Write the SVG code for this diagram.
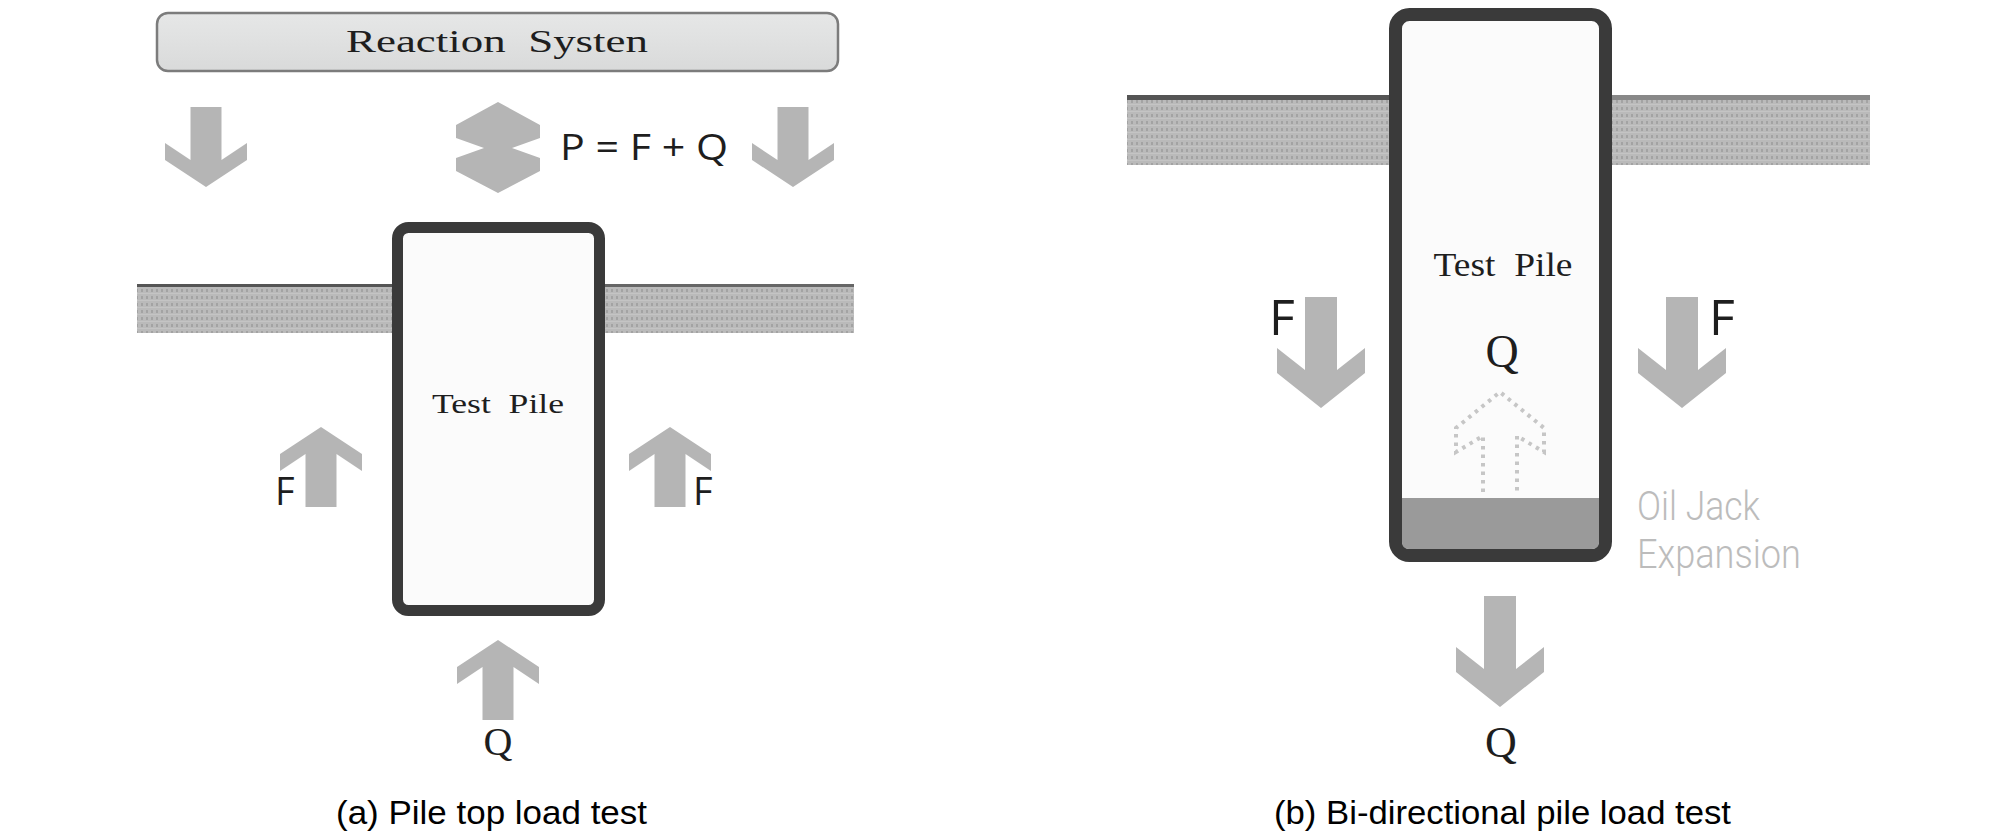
<svg xmlns="http://www.w3.org/2000/svg" width="2008" height="837" viewBox="0 0 2008 837">
  <style>
    .arrow { fill: #b5b5b5; }
    .serif { font-family: "Liberation Serif", "DejaVu Serif", serif; fill: #1e1e1e; }
    .sans { font-family: "Open Sans", "Liberation Sans", sans-serif; fill: #1e1e1e; }
    .cap { font-family: "Liberation Sans", Arial, sans-serif; fill: #000; font-size: 34px; }
    .pile { fill: #fbfbfb; stroke: #3a3a3a; }
    .band { fill: url(#soil); }
  </style>
  <defs>
    <pattern id="soil" width="5" height="7" patternUnits="userSpaceOnUse">
      <rect width="5" height="7" fill="#bababa"/>
      <rect x="1" y="2" width="2" height="3" fill="#a3a3a3"/>
      <rect x="0" y="6" width="5" height="1" fill="#c4c4c4"/>
    </pattern>
    <linearGradient id="boxg" x1="0" y1="0" x2="0" y2="1">
      <stop offset="0" stop-color="#e6e7e7"/>
      <stop offset="1" stop-color="#d9dada"/>
    </linearGradient>
    <path id="upA" d="M0,0 L41,27 L41,44 L15.5,27 L15.5,80 L-15.5,80 L-15.5,27 L-41,44 L-41,27 Z"/>
    <path id="downA" d="M-15.5,0 L15.5,0 L15.5,53 L41,36 L41,53 L0,80 L-41,53 L-41,36 L-15.5,53 Z"/>
    <path id="downB" d="M-16,0 L16,0 L16,73 L44,51 L44,76 L0,111 L-44,76 L-44,51 L-16,73 Z"/>
  </defs>

  <rect width="2008" height="837" fill="#ffffff"/>

  <!-- (a) Pile top load test -->
  <g id="reaction-system">
    <rect x="157" y="13" width="681" height="58" rx="11" fill="url(#boxg)" stroke="#7c7c7c" stroke-width="2.5"/>
    <text class="serif" xml:space="preserve" x="497" y="52" font-size="32" text-anchor="middle" textLength="302" lengthAdjust="spacingAndGlyphs">Reaction  Systen</text>
  </g>

  <g id="ground-a">
    <rect class="band" x="137" y="284" width="258" height="49"/>
    <rect x="137" y="284" width="258" height="3" fill="#555"/>
    <rect class="band" x="602" y="284" width="252" height="49"/>
    <rect x="602" y="284" width="252" height="3" fill="#666"/>
  </g>

  <g id="test-pile-a">
    <rect class="pile" x="397.5" y="227.5" width="202" height="383" rx="11" stroke-width="11"/>
    <text class="serif" xml:space="preserve" x="498" y="413" font-size="28" text-anchor="middle" textLength="132" lengthAdjust="spacingAndGlyphs">Test  Pile</text>
  </g>

  <g id="formula-a">
    <text class="sans" x="560" y="160" font-size="37" textLength="168" lengthAdjust="spacingAndGlyphs">P = F + Q</text>
  </g>

  <!-- (b) Bi-directional pile load test -->
  <g id="ground-b">
    <rect class="band" x="1127" y="95" width="266" height="70"/>
    <rect x="1127" y="95" width="266" height="5" fill="#555"/>
    <rect class="band" x="1608" y="95" width="262" height="70"/>
    <rect x="1608" y="95" width="262" height="5" fill="#888"/>
  </g>

  <g id="test-pile-b">
    <rect class="pile" x="1395.5" y="14.5" width="210" height="541" rx="14" stroke-width="13"/>
    <path d="M1402,498 L1599,498 L1599,542 Q1599,549 1592,549 L1409,549 Q1402,549 1402,542 Z" fill="#9a9a9a"/>
    <text class="serif" xml:space="preserve" x="1503" y="276" font-size="33" text-anchor="middle" textLength="139" lengthAdjust="spacingAndGlyphs">Test  Pile</text>
    <text class="serif" x="1502" y="367" font-size="46" text-anchor="middle">Q</text>
  </g>

  <g id="oil-jack-label">
    <text x="1637" y="520" font-family="Roboto, 'Open Sans', sans-serif" font-weight="300" font-size="40" fill="#bcbcbc" textLength="123" lengthAdjust="spacingAndGlyphs">Oil Jack</text>
    <text x="1637" y="568" font-family="Roboto, 'Open Sans', sans-serif" font-weight="300" font-size="40" fill="#bcbcbc" textLength="164" lengthAdjust="spacingAndGlyphs">Expansion</text>
  </g>

  <g id="connectors">
    <!-- (a) reaction arrows -->
    <use href="#downA" class="arrow" transform="translate(206,107)"/>
    <use href="#downA" class="arrow" transform="translate(793,107)"/>
    <path class="arrow" d="M498,102 L540,125 L540,138 L512,148 L540,158 L540,171 L498,193 L456,171 L456,158 L484,148 L456,138 L456,125 Z"/>
    <!-- (a) shaft friction F -->
    <use href="#upA" class="arrow" transform="translate(321,427)"/>
    <use href="#upA" class="arrow" transform="translate(670,427)"/>
    <!-- (a) end bearing Q -->
    <use href="#upA" class="arrow" transform="translate(498,640)"/>
    <!-- (b) F arrows -->
    <use href="#downB" class="arrow" transform="translate(1321,297)"/>
    <use href="#downB" class="arrow" transform="translate(1682,297)"/>
    <!-- (b) Q downward -->
    <use href="#downB" class="arrow" transform="translate(1500,596)"/>
    <!-- (b) dotted Q upward -->
    <path d="M1483,492 L1483,436 L1456,452 L1456,428 L1500,392 L1544,428 L1544,452 L1517,436 L1517,492" fill="none" stroke="#c6c6c6" stroke-width="4" stroke-dasharray="3.5 5"/>
  </g>

  <g id="labels">
    <text class="sans" x="275" y="505" font-size="38">F</text>
    <text class="sans" x="693" y="505" font-size="38">F</text>
    <text class="serif" x="498" y="755" font-size="40" text-anchor="middle">Q</text>
    <text class="sans" x="1269" y="335" font-size="50">F</text>
    <text class="sans" x="1709" y="335" font-size="50">F</text>
    <text class="serif" x="1501" y="757" font-size="44" text-anchor="middle">Q</text>
  </g>

  <g id="captions">
    <text class="cap" x="336" y="824" textLength="311" lengthAdjust="spacingAndGlyphs">(a) Pile top load test</text>
    <text class="cap" x="1274" y="824" textLength="457" lengthAdjust="spacingAndGlyphs">(b) Bi-directional pile load test</text>
  </g>
</svg>
